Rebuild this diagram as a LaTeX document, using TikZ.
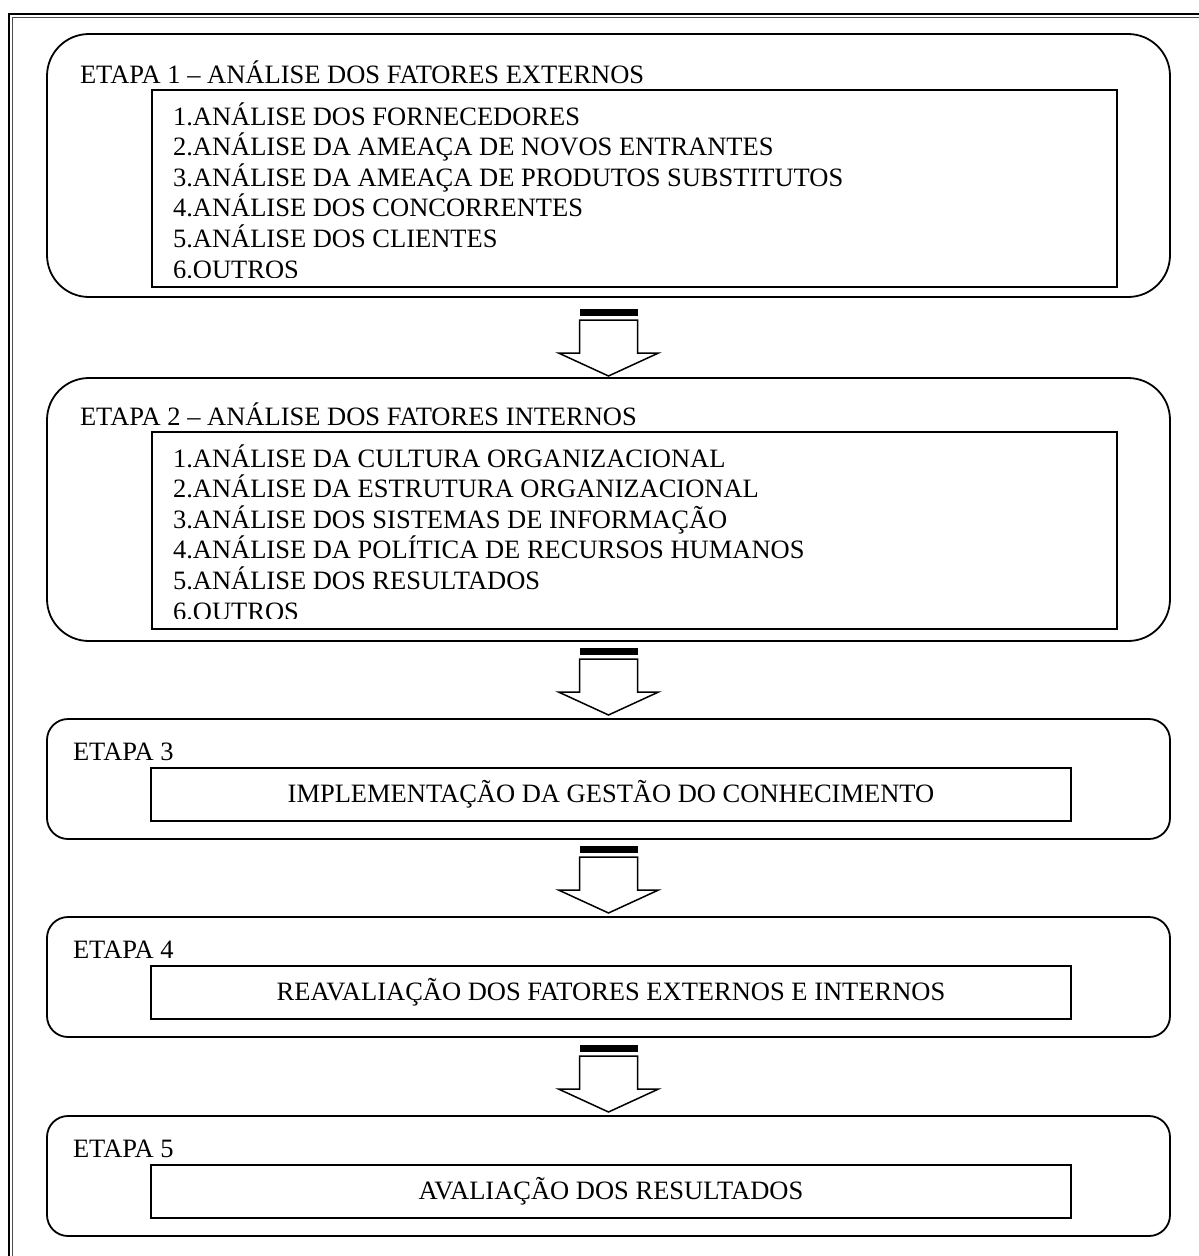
\documentclass[tikz,border=0pt]{standalone}
\usepackage{fontspec}
\setmainfont{Liberation Serif}
\begin{document}
\begin{tikzpicture}[x=1pt,y=-1pt,
  every node/.style={inner sep=0pt, outer sep=0pt},
  txt/.style={font=\fontsize{26.5}{30.6}\selectfont, anchor=base west},
  stagebox/.style={draw, line width=1.8pt, minimum width=1123pt},
  bigstage/.style={stagebox, rounded corners=42pt, minimum height=263pt},
  smallstage/.style={stagebox, rounded corners=21pt, minimum height=120pt},
  listbox/.style={draw, line width=1.6pt, minimum width=965pt, minimum height=197pt},
  titlebox/.style={draw, line width=1.6pt, minimum width=920pt, minimum height=53pt,
    font=\fontsize{26.5}{30.6}\selectfont},
  blockarrow/.pic={
    \fill (-29,-67) rectangle (29,-60);
    \draw[line width=1.5pt, line join=miter, fill=white]
      (-29,-56) -- (-29,-23) -- (-50,-23) -- (0,0) -- (50,-23) -- (29,-23) -- (29,-56) -- cycle;
  }]
\useasboundingbox (0,0) rectangle (1199,1256);

% page border (double rule)
\draw[line width=1.6pt] (9,1256) -- (9,14) -- (1199,14);
\draw[line width=1pt, black!70] (12.5,1256) -- (12.5,17.5) -- (1199,17.5);

% ---- stage 1 ----
\node[bigstage] (etapa1) at (608.5,165.5) {};
\node[txt] (t1) at (80,83) {ETAPA 1 – ANÁLISE DOS FATORES EXTERNOS};
\node[listbox] (lista1) at (634.5,188.5) {};
\begin{scope}
  \clip (lista1.north west) rectangle ([yshift=10pt]lista1.south east);
  \foreach \item [count=\i] in {1.ANÁLISE DOS FORNECEDORES,
      2.ANÁLISE DA AMEAÇA DE NOVOS ENTRANTES,
      3.ANÁLISE DA AMEAÇA DE PRODUTOS SUBSTITUTOS,
      4.ANÁLISE DOS CONCORRENTES,
      5.ANÁLISE DOS CLIENTES,
      6.OUTROS}
    \node[txt] (a\i) at (173,{125+30.6*(\i-1)}) {\item};
\end{scope}

% ---- stage 2 ----
\node[bigstage] (etapa2) at (608.5,509.5) {};
\node[txt] (t2) at (80,425) {ETAPA 2 – ANÁLISE DOS FATORES INTERNOS};
\node[listbox] (lista2) at (634.5,530.5) {};
\begin{scope}
  \clip (lista2.north west) rectangle ([yshift=11pt]lista2.south east);
  \foreach \item [count=\i] in {1.ANÁLISE DA CULTURA ORGANIZACIONAL,
      2.ANÁLISE DA ESTRUTURA ORGANIZACIONAL,
      3.ANÁLISE DOS SISTEMAS DE INFORMAÇÃO,
      4.ANÁLISE DA POLÍTICA DE RECURSOS HUMANOS,
      5.ANÁLISE DOS RESULTADOS,
      6.OUTROS}
    \node[txt] (b\i) at (173,{467+30.6*(\i-1)}) {\item};
\end{scope}

% ---- stage 3 ----
\node[smallstage] (etapa3) at (608.5,779) {};
\node[txt] (t3) at (73,760) {ETAPA 3};
\node[titlebox] (passo3) at (611,794.5) {IMPLEMENTAÇÃO DA GESTÃO DO CONHECIMENTO};

% ---- stage 4 ----
\node[smallstage] (etapa4) at (608.5,977) {};
\node[txt] (t4) at (73,958) {ETAPA 4};
\node[titlebox] (passo4) at (611,992.5) {REAVALIAÇÃO DOS FATORES EXTERNOS E INTERNOS};

% ---- stage 5 ----
\node[smallstage] (etapa5) at (608.5,1176) {};
\node[txt] (t5) at (73,1157) {ETAPA 5};
\node[titlebox] (passo5) at (611,1191.5) {AVALIAÇÃO DOS RESULTADOS};

% ---- arrows between stages ----
\pic at ([yshift=2pt]etapa2.north) {blockarrow};
\pic at ([yshift=4pt]etapa3.north) {blockarrow};
\pic at ([yshift=4pt]etapa4.north) {blockarrow};
\pic at ([yshift=4pt]etapa5.north) {blockarrow};
\end{tikzpicture}
\end{document}
